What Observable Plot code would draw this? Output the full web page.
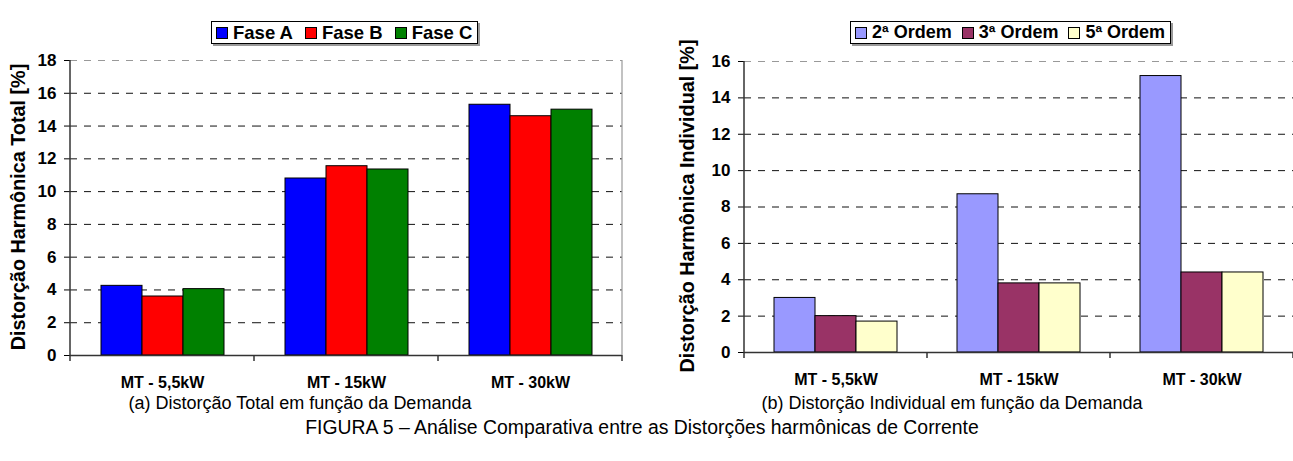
<!DOCTYPE html>
<html>
<head>
<meta charset="utf-8">
<script src="https://cdn.jsdelivr.net/npm/d3@7"></script>
<script src="https://cdn.jsdelivr.net/npm/@observablehq/plot@0.6"></script>
<style>
  html, body { margin: 0; padding: 0; background: #fff; }
  #root { position: relative; width: 1293px; height: 461px; overflow: hidden; font-family: "Liberation Sans", Arial, sans-serif; color: #000; }
  .chart { position: absolute; top: 0; }
  .legend { position: absolute; display: flex; align-items: center; border: 1px solid #000; box-shadow: 2px 2px 0 #999; background: #fff; font-weight: bold; font-size: 18px; height: 21px; padding: 0 5px 0 4px; white-space: nowrap; }
  .legend .item { display: flex; align-items: center; margin-right: 10px; }
  .legend.wide { font-size: 18.5px; }
  .legend.wide .item { margin-right: 12px; }
  .legend .item:last-child { margin-right: 0; }
  .legend .sw { width: 12px; height: 12px; border: 1px solid #000; margin-right: 5px; box-sizing: border-box; }
  .ylabel { position: absolute; font-weight: bold; font-size: 19.8px; white-space: nowrap; transform: translate(-50%, -50%) rotate(-90deg); }
  .cap { position: absolute; font-size: 18px; white-space: nowrap; transform: translateX(-50%); }
  .cap.fig { font-size: 19.4px; }
</style>
</head>
<body>
<div id="root"></div>
<script>
// ---- data ----
const categories = ["MT - 5,5kW", "MT - 15kW", "MT - 30kW"];

const phaseNames = ["Fase A", "Fase B", "Fase C"];
const phaseColors = ["#0000FF", "#FF0000", "#008000"];
const faseA = [4.25, 10.8, 15.3];
const faseB = [3.6, 11.55, 14.6];
const faseC = [4.05, 11.35, 15.0];
const yTicksTotal = [0, 2, 4, 6, 8, 10, 12, 14, 16, 18];

const orderNames = ["2ª Ordem", "3ª Ordem", "5ª Ordem"];
const orderColors = ["#9999FF", "#993366", "#FFFFCC"];
const ordem2 = [3.0, 8.7, 15.2];
const ordem3 = [2.0, 3.8, 4.4];
const ordem5 = [1.7, 3.8, 4.4];
const yTicksInd = [0, 2, 4, 6, 8, 10, 12, 14, 16];

const yLabelTotal = "Distorção Harmônica Total [%]";
const yLabelInd = "Distorção Harmônica Individual [%]";
const captionA = "(a) Distorção Total em função da Demanda";
const captionB = "(b) Distorção Individual em função da Demanda";
const captionFig = "FIGURA 5 – Análise Comparativa entre as Distorções harmônicas de Corrente";

function toRows(names, seriesArrays) {
  const rows = [];
  categories.forEach((c, i) => {
    names.forEach((n, j) => rows.push({category: c, series: n, value: seriesArrays[j][i]}));
  });
  return rows;
}

const root = document.getElementById("root");

function makeChart({rows, names, colors, ticks, left, width, height, mTop, mBottom, mLeft, mRight, rightBorder}) {
  const yMax = ticks[ticks.length - 1];
  const chart = Plot.plot({
    width, height,
    marginTop: mTop, marginBottom: mBottom, marginLeft: mLeft, marginRight: mRight,
    style: {fontFamily: "'Liberation Sans', Arial, sans-serif", fontSize: "17px", fontWeight: "bold", color: "#000", background: "transparent", overflow: "visible"},
    fx: {domain: categories, padding: 0, axis: "bottom", tickSize: 0, tickPadding: 21, label: null},
    x: {domain: names, paddingInner: 0, paddingOuter: 0.73, axis: null},
    y: {domain: [0, yMax], ticks, tickSize: 6, tickPadding: 8, label: null},
    color: {domain: names, range: colors},
    marks: [
      Plot.ruleY(ticks.filter(d => d > 0 && d < yMax), {stroke: "#111", strokeDasharray: "7,7"}),
      Plot.ruleY([yMax], {stroke: "#999", strokeDasharray: "7,7"}),
      Plot.barY(rows, {fx: "category", x: "series", y: "value", fill: "series", stroke: "#000", strokeWidth: 1}),
      Plot.ruleY([0], {stroke: "#333", strokeWidth: 1.5})
    ]
  });
  chart.classList.add("chart");
  chart.style.left = left + "px";
  root.appendChild(chart);

  // x tick labels slightly smaller than y tick labels
  d3.select(chart).selectAll("[aria-label='fx-axis tick label'] text, [aria-label='fx-axis'] text").attr("font-size", 16);

  // axis line and category dividers, placed through the library's scales
  const fx = chart.scale("fx");
  const y = chart.scale("y");
  const svg = d3.select(chart);
  const y0 = y.apply(0), yTop = y.apply(yMax);
  const bw = fx.bandwidth;
  const xs = categories.map(c => fx.apply(c));
  const g = svg.append("g").attr("stroke", "#333").attr("stroke-width", 1.5);
  g.append("line").attr("x1", xs[0]).attr("x2", xs[0]).attr("y1", yTop).attr("y2", y0 + 6);
  [...xs.slice(1), xs[xs.length - 1] + bw].forEach(x => {
    g.append("line").attr("x1", x).attr("x2", x).attr("y1", y0).attr("y2", y0 + 6);
  });
  if (rightBorder) {
    svg.append("line").attr("stroke", "#999").attr("stroke-width", 1.2)
      .attr("x1", xs[xs.length - 1] + bw).attr("x2", xs[xs.length - 1] + bw).attr("y1", yTop).attr("y2", y0);
  }
  return chart;
}

makeChart({rows: toRows(phaseNames, [faseA, faseB, faseC]), names: phaseNames, colors: phaseColors, ticks: yTicksTotal,
  left: 0, width: 640, height: 400, mTop: 60, mBottom: 45, mLeft: 69, mRight: 18, rightBorder: true});
makeChart({rows: toRows(orderNames, [ordem2, ordem3, ordem5]), names: orderNames, colors: orderColors, ticks: yTicksInd,
  left: 646, width: 648, height: 400, mTop: 61, mBottom: 48, mLeft: 97, mRight: 0, rightBorder: false});

function legend(names, colors, left, top, extraClass) {
  const d = document.createElement("div");
  d.className = "legend" + (extraClass ? " " + extraClass : "");
  d.style.left = left + "px";
  d.style.top = top + "px";
  names.forEach((n, i) => {
    const it = document.createElement("div");
    it.className = "item";
    const sw = document.createElement("div");
    sw.className = "sw";
    sw.style.background = colors[i];
    const t = document.createElement("span");
    t.textContent = n;
    it.appendChild(sw); it.appendChild(t);
    d.appendChild(it);
  });
  root.appendChild(d);
}
legend(phaseNames, phaseColors, 211, 21, "wide");
legend(orderNames, orderColors, 850, 21);

function text(cls, str, x, y) {
  const d = document.createElement("div");
  d.className = cls;
  d.textContent = str;
  d.style.left = x + "px";
  d.style.top = y + "px";
  root.appendChild(d);
}
text("ylabel", yLabelTotal, 18, 207);
text("ylabel", yLabelInd, 687, 206);
text("cap", captionA, 300, 393);
text("cap", captionB, 952, 393);
text("cap fig", captionFig, 642, 416);
</script>
</body>
</html>
